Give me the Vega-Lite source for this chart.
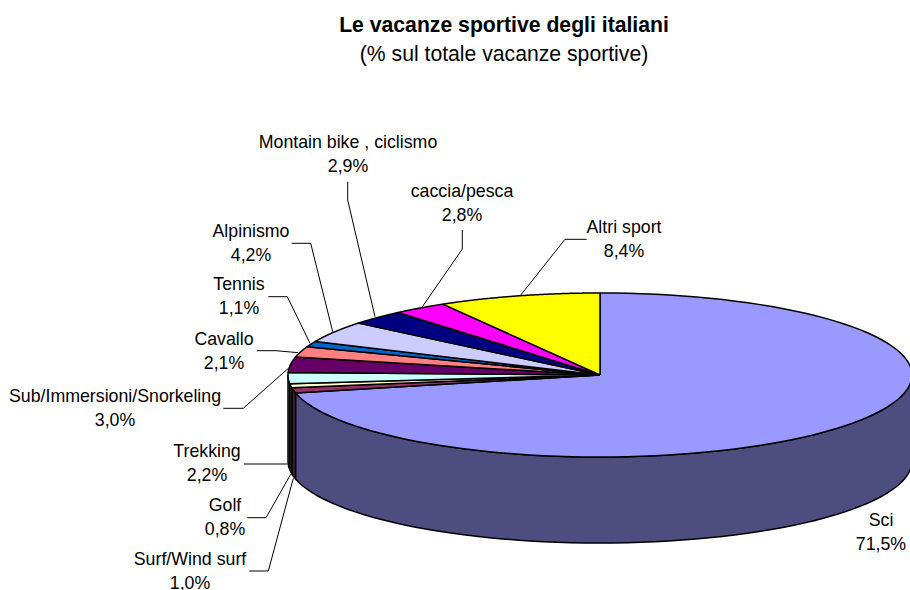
{
"$schema":"https://vega.github.io/schema/vega-lite/v6.json",
"width":910,"height":590,"padding":0,"autosize":"none",
"background":"white",
"title":{"text":"Le vacanze sportive degli italiani","subtitle":"(% sul totale vacanze sportive)","anchor":"middle","frame":"group","dx":49,"dy":69,"font":"Liberation Sans","fontSize":21.2,"fontWeight":"bold","color":"#000000","subtitleFont":"Liberation Sans","subtitleFontSize":21.2,"subtitleColor":"#000000","subtitlePadding":8},
"config":{"view":{"stroke":null},"text":{"font":"Liberation Sans"}},
"datasets":{
"sports":[
{"idx":1,"label":"Sci","value":71.5},
{"idx":2,"label":"Surf/Wind surf","value":1.0},
{"idx":3,"label":"Golf","value":0.8},
{"idx":4,"label":"Trekking","value":2.2},
{"idx":5,"label":"Sub/Immersioni/Snorkeling","value":3.0},
{"idx":6,"label":"Cavallo","value":2.1},
{"idx":7,"label":"Tennis","value":1.1},
{"idx":8,"label":"Alpinismo","value":4.2},
{"idx":9,"label":"Montain bike , ciclismo","value":2.9},
{"idx":10,"label":"caccia/pesca","value":2.8},
{"idx":11,"label":"Altri sport","value":8.4}
],
"anchors":[
{"label":"Sci","lx":281,"ly":146},
{"label":"Surf/Wind surf","lx":-410,"ly":185},
{"label":"Golf","lx":-375,"ly":131},
{"label":"Trekking","lx":-393,"ly":77},
{"label":"Sub/Immersioni/Snorkeling","lx":-485,"ly":22},
{"label":"Cavallo","lx":-376,"ly":-35},
{"label":"Tennis","lx":-361,"ly":-90},
{"label":"Alpinismo","lx":-349,"ly":-143},
{"label":"Montain bike , ciclismo","lx":-252,"ly":-232},
{"label":"caccia/pesca","lx":-138,"ly":-183},
{"label":"Altri sport","lx":24,"ly":-147}
],
"leaders":[
{"label":"Montain","o":1,"px":-252.3,"py":-193.3},{"label":"Montain","o":2,"px":-252.3,"py":-175},{"label":"Montain","o":3,"px":-225,"py":-58.3},
{"label":"caccia","o":1,"px":-137.7,"py":-145},{"label":"caccia","o":2,"px":-137.7,"py":-126},{"label":"caccia","o":3,"px":-178.3,"py":-67.3},
{"label":"Altri","o":1,"px":-13.3,"py":-135.7},{"label":"Altri","o":2,"px":-35,"py":-135.7},{"label":"Altri","o":3,"px":-80,"py":-79},
{"label":"Alpinismo","o":1,"px":-308.3,"py":-131.7},{"label":"Alpinismo","o":2,"px":-289.3,"py":-131.7},{"label":"Alpinismo","o":3,"px":-267.3,"py":-43.3},
{"label":"Tennis","o":1,"px":-331.7,"py":-78.3},{"label":"Tennis","o":2,"px":-312.7,"py":-78.3},{"label":"Tennis","o":3,"px":-290,"py":-31.7},
{"label":"Cavallo","o":1,"px":-343,"py":-24.3},{"label":"Cavallo","o":2,"px":-324,"py":-24.3},{"label":"Cavallo","o":3,"px":-301.7,"py":-22.3},
{"label":"Sub","o":1,"px":-376.7,"py":33.3},{"label":"Sub","o":2,"px":-356.7,"py":33.3},{"label":"Sub","o":3,"px":-311.7,"py":-6.7},
{"label":"Trekking","o":1,"px":-356,"py":89},{"label":"Trekking","o":2,"px":-312.7,"py":89},
{"label":"Golf","o":1,"px":-352.7,"py":142.7},{"label":"Golf","o":2,"px":-334,"py":142.7},{"label":"Golf","o":3,"px":-309.3,"py":99.3},
{"label":"Surf","o":1,"px":-350.7,"py":196},{"label":"Surf","o":2,"px":-331.7,"py":196},{"label":"Surf","o":3,"px":-306.7,"py":103.3}
]
},
"data":{"name":"sports"},
"transform":[
{"window":[{"op":"sum","field":"value","as":"cum"}],"sort":[{"field":"idx","order":"ascending"}]},
{"calculate":"(datum.cum-datum.value)*3.6*PI/180","as":"a0"},
{"calculate":"datum.cum*3.6*PI/180","as":"a1"}
],
"layer":[
{
"transform":[
{"filter":"datum.a1>PI/2 && datum.a0<3*PI/2"},
{"calculate":"sequence(0,1.005,0.01)","as":"t"},
{"flatten":["t"]},
{"calculate":"clamp(datum.a0+(datum.a1-datum.a0)*datum.t,PI/2,3*PI/2)","as":"aw"},
{"calculate":"312*sin(datum.aw)","as":"ex"},
{"calculate":"-82*cos(datum.aw)","as":"ey"},
{"calculate":"datum.ey+86","as":"ey2"}
],
"mark":{"type":"area","stroke":"#000000","strokeWidth":1.5,"interpolate":"linear"},
"encoding":{
"x":{"field":"ex","type":"quantitative","scale":{"domain":[-600,310],"nice":false,"zero":false},"axis":null},
"y":{"field":"ey","type":"quantitative","scale":{"domain":[-375,215],"reverse":true,"nice":false,"zero":false},"axis":null},
"y2":{"field":"ey2"},
"fill":{"field":"label","type":"nominal","legend":null,"scale":{"domain":["Sci","Surf/Wind surf","Golf","Trekking"],"range":["#4D4D80","#4D1A33","#808066","#668080"]}}
}
},
{
"transform":[
{"calculate":"sequence(-0.01,1.015,0.01)","as":"t"},
{"flatten":["t"]},
{"calculate":"datum.a0+(datum.a1-datum.a0)*clamp(datum.t,0,1)","as":"a"},
{"calculate":"(datum.t<-0.005||datum.t>1.005)?0:312*sin(datum.a)","as":"ex"},
{"calculate":"(datum.t<-0.005||datum.t>1.005)?0:-82*cos(datum.a)","as":"ey"}
],
"mark":{"type":"line","stroke":"#000000","strokeWidth":1.5,"strokeJoin":"round","interpolate":"linear"},
"encoding":{
"x":{"field":"ex","type":"quantitative","scale":{"domain":[-600,310],"nice":false,"zero":false},"axis":null},
"y":{"field":"ey","type":"quantitative","scale":{"domain":[-375,215],"reverse":true,"nice":false,"zero":false},"axis":null},
"order":{"field":"t","type":"quantitative"},
"detail":{"field":"label","type":"nominal"},
"fill":{"field":"label","type":"nominal","legend":null,"scale":{"domain":["Sci","Surf/Wind surf","Golf","Trekking","Sub/Immersioni/Snorkeling","Cavallo","Tennis","Alpinismo","Montain bike , ciclismo","caccia/pesca","Altri sport"],"range":["#9999FF","#993366","#FFFFCC","#CCFFFF","#660066","#FF8080","#0066CC","#CCCCFF","#000080","#FF00FF","#FFFF00"]}}
}
},
{
"data":{"name":"leaders"},
"mark":{"type":"line","stroke":"#000000","strokeWidth":1,"interpolate":"linear"},
"encoding":{
"x":{"field":"px","type":"quantitative","scale":{"domain":[-600,310],"nice":false,"zero":false},"axis":null},
"y":{"field":"py","type":"quantitative","scale":{"domain":[-375,215],"reverse":true,"nice":false,"zero":false},"axis":null},
"order":{"field":"o","type":"quantitative"},
"detail":{"field":"label","type":"nominal"}
}
},
{
"transform":[
{"lookup":"label","from":{"data":{"name":"anchors"},"key":"label","fields":["lx","ly"]}},
{"calculate":"datum.label+'\\n'+replace(format(datum.value,'.1f'),'.',',')+'%'","as":"txt"}
],
"mark":{"type":"text","font":"Liberation Sans","fontSize":17.75,"lineBreak":"\n","lineHeight":23.5,"align":"center","baseline":"middle","color":"#000000"},
"encoding":{
"x":{"field":"lx","type":"quantitative","scale":{"domain":[-600,310],"nice":false,"zero":false},"axis":null},
"y":{"field":"ly","type":"quantitative","scale":{"domain":[-375,215],"reverse":true,"nice":false,"zero":false},"axis":null},
"text":{"field":"txt","type":"nominal"}
}
}
],
"resolve":{"scale":{"fill":"independent"}}
}
